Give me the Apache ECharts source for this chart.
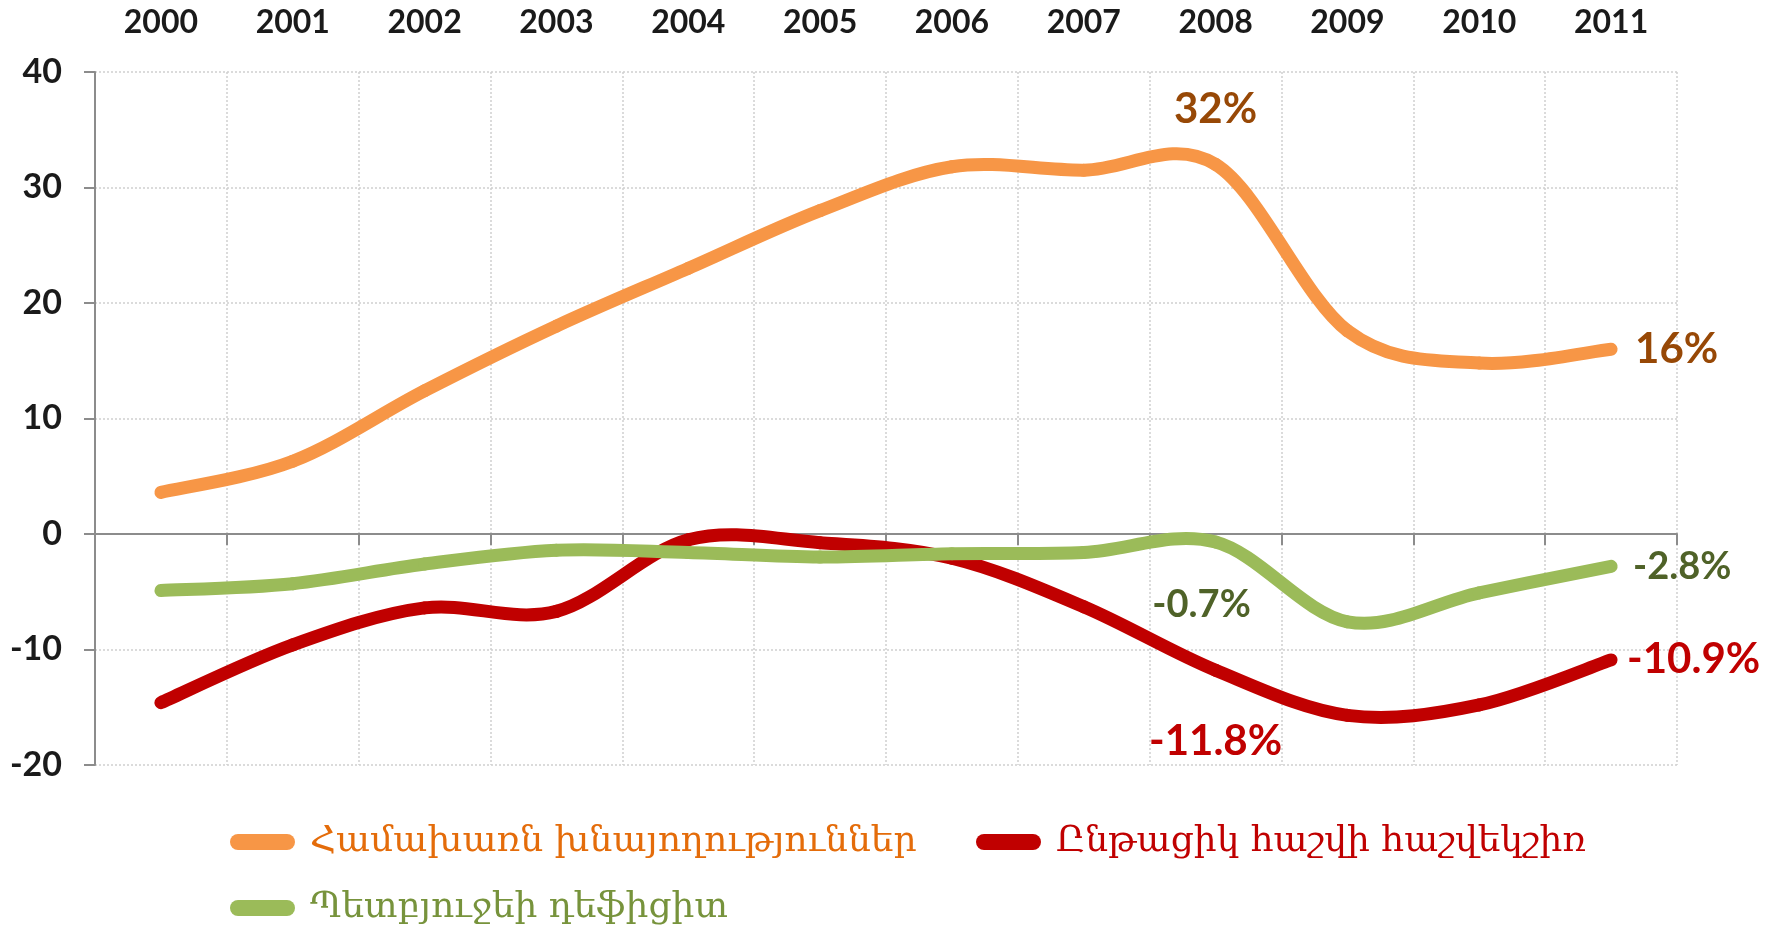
<!DOCTYPE html>
<html>
<head>
<meta charset="utf-8">
<title>Chart</title>
<script src="https://cdn.jsdelivr.net/npm/echarts@6/dist/echarts.min.js"></script>
<style>
  html, body { margin: 0; padding: 0; background: #fff; }
  #chart { width: 1779px; height: 936px; }
</style>
</head>
<body>
<div id="chart"></div>
<script>
// years along the top
const years = ['2000', '2001', '2002', '2003', '2004', '2005', '2006', '2007', '2008', '2009', '2010', '2011'];

// series values, % of GDP
const savings = [3.6, 6.3, 12.4, 18, 23, 28, 31.8, 31.5, 32, 17.6, 14.8, 16];
const currentAccount = [-14.6, -9.6, -6.4, -6.7, -0.5, -0.75, -2.1, -6.3, -11.8, -15.7, -14.8, -10.9];
const budgetDeficit = [-4.9, -4.3, -2.6, -1.4, -1.6, -2.0, -1.7, -1.6, -0.7, -7.6, -5.1, -2.8];

const seriesNames = ['Համախառն խնայողություններ', 'Ընթացիկ հաշվի հաշվեկշիռ', 'Պետբյուջեի դեֆիցիտ'];

const yTicks = [-20, -10, 0, 10, 20, 30, 40];

// points that get a value label
const labelIdx = [8, 11];

const FONT = 'Lato, "Open Sans", sans-serif';
const ARM_FONT = '"DejaVu Serif", "DejaVu Sans", serif';

const chart = echarts.init(document.getElementById('chart'));

// smooth curve like the office chart: each segment i -> i+1 is a bezier
// whose control points come from the neighbours (catmull-rom, 1/6)
const smoothLine = (name, color, values) => ({
  name: name,
  type: 'custom',
  coordinateSystem: 'cartesian2d',
  xAxisIndex: 0,
  itemStyle: { color: color },
  encode: { x: 0, y: 1 },
  data: values.map((v, i) => [i, v]),
  renderItem: (params, api) => {
    const i = params.dataIndex;
    const n = values.length;
    if (i >= n - 1) return null;
    const pt = k => {
      const j = Math.max(0, Math.min(n - 1, k));
      return api.coord([j, values[j]]);
    };
    const p0 = pt(i - 1), p1 = pt(i), p2 = pt(i + 1), p3 = pt(i + 2);
    return {
      type: 'bezierCurve',
      shape: {
        x1: p1[0], y1: p1[1],
        cpx1: p1[0] + (p2[0] - p0[0]) / 6, cpy1: p1[1] + (p2[1] - p0[1]) / 6,
        cpx2: p2[0] - (p3[0] - p1[0]) / 6, cpy2: p2[1] - (p3[1] - p1[1]) / 6,
        x2: p2[0], y2: p2[1]
      },
      style: { fill: null, stroke: color, lineWidth: 13, lineCap: 'round', lineJoin: 'round' }
    };
  }
});

const valueLabels = (values, marks) => ({
  type: 'scatter',
  xAxisIndex: 0,
  symbolSize: 0,
  silent: true,
  z: 5,
  itemStyle: { opacity: 1 },
  data: labelIdx.map(i => ({
    value: [i, values[i]],
    label: Object.assign({
      show: true,
      formatter: p => p.value[1] + '%',
      fontFamily: FONT,
      fontWeight: 'bold'
    }, marks[i])
  }))
});

const capsule = 'path://M8,0 L57,0 A8,8 0 0 1 57,16 L8,16 A8,8 0 0 1 8,0 Z';

const legendBase = {
  icon: capsule,
  itemWidth: 65,
  itemHeight: 16,
  itemGap: 0,
  padding: 0,
  textStyle: { fontFamily: ARM_FONT, fontSize: 36, padding: [0, 0, 0, 10] }
};

chart.setOption({
  animation: false,
  backgroundColor: '#ffffff',
  grid: { left: 95, right: 102, top: 72, bottom: 171, containLabel: false },
  legend: [
    Object.assign({}, legendBase, { data: [seriesNames[0]], left: 230, top: 824,
      textStyle: Object.assign({}, legendBase.textStyle, { color: '#E46C0A' }) }),
    Object.assign({}, legendBase, { data: [seriesNames[1]], left: 976, top: 824,
      textStyle: Object.assign({}, legendBase.textStyle, { color: '#C00000' }) }),
    Object.assign({}, legendBase, { data: [seriesNames[2]], left: 230, top: 890,
      textStyle: Object.assign({}, legendBase.textStyle, { color: '#77933C' }) })
  ],
  xAxis: [
    {
      type: 'category',
      data: years,
      position: 'top',
      boundaryGap: true,
      axisLine: { show: false, onZero: false },
      axisTick: { show: false },
      axisLabel: {
        interval: 0,
        margin: 33,
        color: '#1a1a1a',
        fontFamily: FONT,
        fontWeight: 'bold',
        fontSize: 32
      },
      splitLine: {
        show: true,
        interval: 0,
        lineStyle: { color: '#d0d0d0', type: [2, 2], width: 1.5 }
      }
    },
    {
      type: 'category',
      data: years,
      position: 'bottom',
      boundaryGap: true,
      axisLine: { show: true, onZero: true, lineStyle: { color: '#8c8c8c', width: 2 } },
      axisTick: { show: true, interval: 0, length: 11, lineStyle: { color: '#8c8c8c', width: 2 } },
      axisLabel: { show: false },
      splitLine: { show: false }
    }
  ],
  yAxis: {
    type: 'value',
    min: yTicks[0],
    max: yTicks[yTicks.length - 1],
    interval: 10,
    axisLine: { show: true, lineStyle: { color: '#8c8c8c', width: 2 } },
    axisTick: { show: true, length: 11, lineStyle: { color: '#8c8c8c', width: 2 } },
    axisLabel: {
      margin: 33,
      color: '#1a1a1a',
      fontFamily: FONT,
      fontWeight: 'bold',
      fontSize: 34
    },
    splitLine: { show: true, lineStyle: { color: '#d0d0d0', type: [2, 2], width: 1.5 } }
  },
  series: [
    smoothLine(seriesNames[0], '#F79646', savings),
    smoothLine(seriesNames[1], '#C00000', currentAccount),
    smoothLine(seriesNames[2], '#9BBB59', budgetDeficit),
    valueLabels(savings, {
      8: { position: 'top', distance: 34, fontSize: 42, color: '#974806' },
      11: { position: 'right', distance: 24, fontSize: 42, color: '#974806' }
    }),
    valueLabels(currentAccount, {
      8: { position: 'bottom', distance: 50, fontSize: 42, color: '#C00000' },
      11: { position: 'right', distance: 16, fontSize: 42, color: '#C00000' }
    }),
    valueLabels(budgetDeficit, {
      8: { position: 'bottom', distance: 44, offset: [-14, 0], fontSize: 38, color: '#4F6228' },
      11: { position: 'right', distance: 22, fontSize: 38, color: '#4F6228' }
    })
  ]
});
</script>
</body>
</html>
